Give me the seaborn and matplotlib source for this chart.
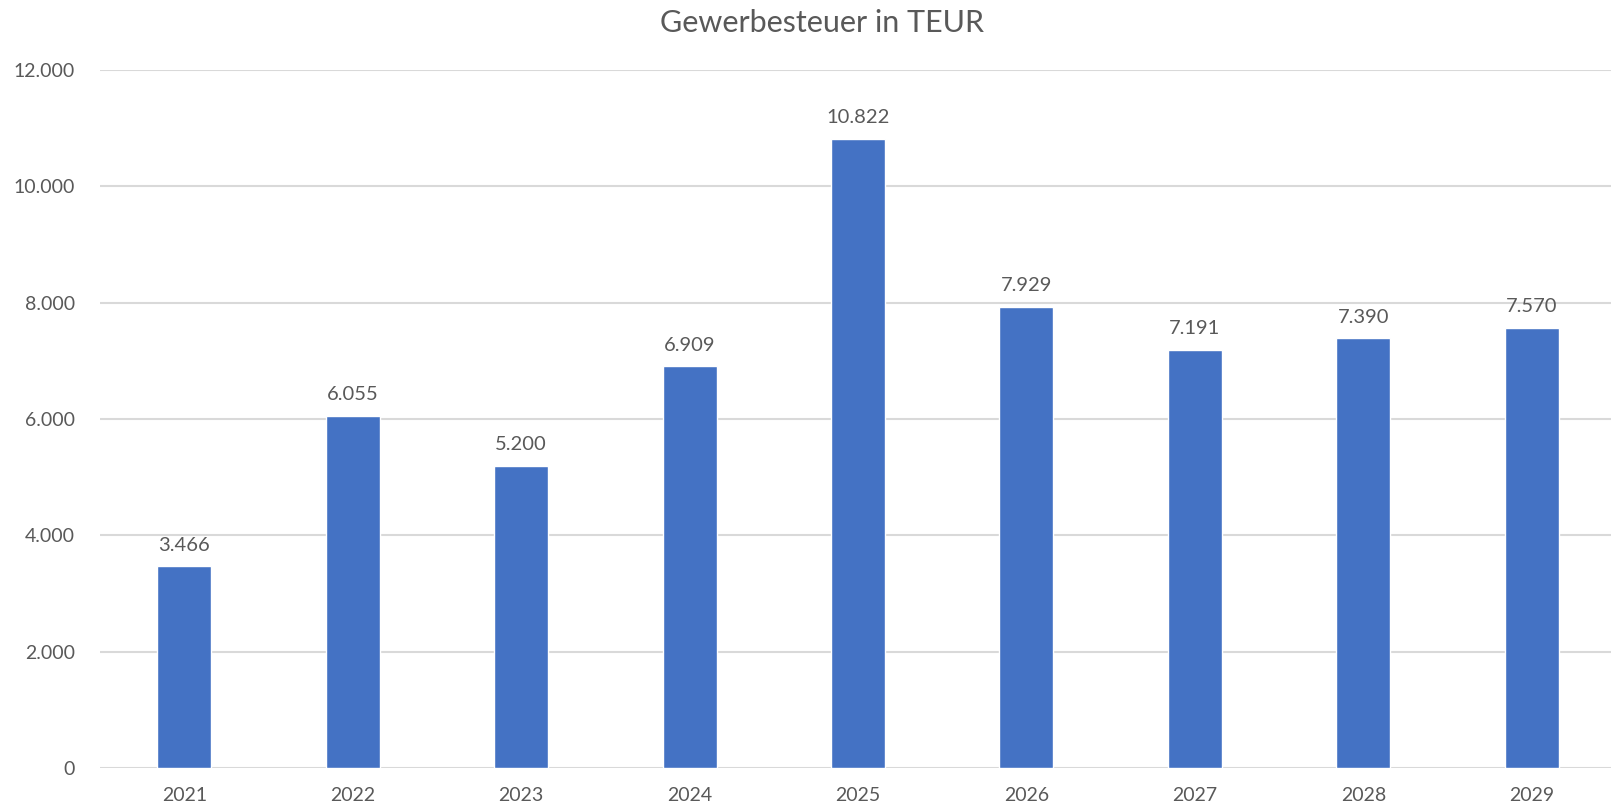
import pandas as pd
import matplotlib.pyplot as plt
import matplotlib.ticker as mticker
import seaborn as sns

# Data
years = ["2021", "2022", "2023", "2024", "2025", "2026", "2027", "2028", "2029"]
gewerbesteuer = [3466, 6055, 5200, 6909, 10822, 7929, 7191, 7390, 7570]

df = pd.DataFrame({"Jahr": years, "TEUR": gewerbesteuer})

sns.set_style("white")
plt.rcParams["font.family"] = ["Lato", "DejaVu Sans"]

text_color = "#595959"
grid_color = "#D9D9D9"
bar_color = "#4472C4"


def de_format(v, pos=None):
    return f"{int(round(v)):,}".replace(",", ".")


fig = plt.figure(figsize=(16.11, 8.09), dpi=100)
ax = fig.add_axes([100 / 1611, 1 - 768 / 809, 1 - 100 / 1611, (768 - 70) / 809])

sns.barplot(data=df, x="Jahr", y="TEUR", color=bar_color, width=0.32,
            saturation=1, ax=ax)

ax.set_ylim(0, 12000)
ax.set_xlim(-0.5, 8.5 - 5 / 168.5)
ax.yaxis.set_major_locator(mticker.MultipleLocator(2000))
ax.yaxis.set_major_formatter(mticker.FuncFormatter(de_format))
ax.grid(axis="y", color=grid_color, linewidth=1.5)
ax.set_axisbelow(True)
for s in ax.spines.values():
    s.set_visible(False)

ax.set_xlabel("")
ax.set_ylabel("")
ax.tick_params(axis="both", length=0, labelsize=14, labelcolor=text_color)
ax.tick_params(axis="x", pad=14)
ax.tick_params(axis="y", pad=18)

# Value labels
ax.bar_label(ax.containers[0], labels=[de_format(v) for v in gewerbesteuer],
             padding=9, fontsize=14.5, color=text_color)

fig.text(0.51, 1 - 23 / 809, "Gewerbesteuer in TEUR", ha="center", va="center",
         fontsize=22, color=text_color)

fig.savefig("out.png", dpi=100)
